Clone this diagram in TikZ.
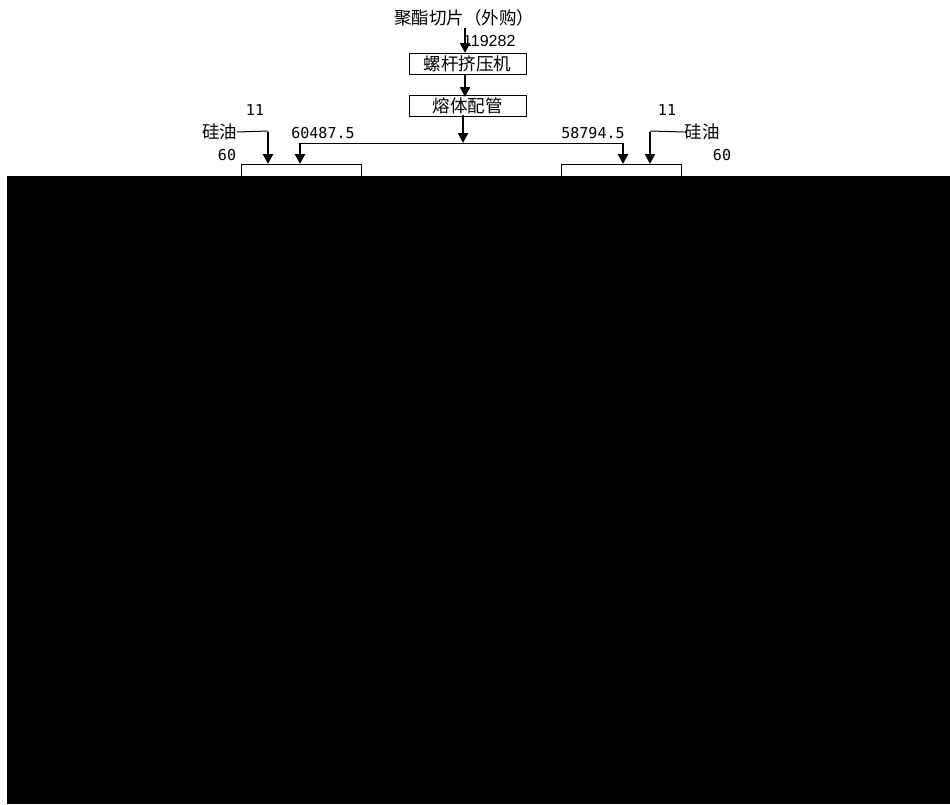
\documentclass[tikz,border=0pt]{standalone}
\usepackage{fontspec}
\usetikzlibrary{arrows.meta}
\newfontfamily\cjkfont{Noto Sans CJK SC}
\newfontfamily\monofont{DejaVu Sans Mono}
\newfontfamily\sansfont{Liberation Sans}
\begin{document}
\begin{tikzpicture}[x=1pt,y=-1pt,
  cn/.style={font=\cjkfont\fontsize{17.5}{17.5}\selectfont, inner sep=0pt},
  procbox/.style={draw, line width=1pt, minimum width=117pt, minimum height=21pt, inner sep=0pt, font=\cjkfont\fontsize{17.5}{17.5}\selectfont},
  tankbox/.style={draw, line width=1pt, minimum width=120pt, minimum height=30pt, inner sep=0pt},
  num/.style={font=\monofont\fontsize{15}{15}\selectfont, inner sep=0pt},
  snum/.style={font=\sansfont\fontsize{16}{16}\selectfont, inner sep=0pt},
  flow/.style={line width=2.2pt, -{Triangle[length=10pt,width=10pt]}},
  thinline/.style={line width=1pt}]
\useasboundingbox (0,0) rectangle (950,804);
\fill[white] (0,0) rectangle (950,804);
% main chain
\node[cn] (src) at (464,18) {聚酯切片（外购）};
\node[procbox] (b1) at (467.5,63.5) {螺杆挤压机};
\node[procbox] (b2) at (467.5,106) {熔体配管};
\node[snum, anchor=west] (q0) at (463,41) {119282};
\coordinate (s1) at (465,28);
\coordinate (e1) at (465,53);
\draw[flow] (s1) -- (e1);
\coordinate (s2) at (465,74);
\coordinate (e2) at (465,97);
\draw[flow] (s2) -- (e2);
\coordinate (s3) at (463,115);
\coordinate (jc) at (463,143);
\draw[flow] (s3) -- (jc);
% split
\coordinate (jl) at (300,143);
\coordinate (jr) at (623,143);
\draw[thinline] (jl) -- (jr);
\node[tankbox] (lbox) at (301,179) {};
\node[tankbox] (rbox) at (621,179) {};
\coordinate (tl) at (300,164);
\coordinate (tr) at (623,164);
\draw[flow] (jl) -- (tl);
\draw[flow] (jr) -- (tr);
\node[num] (ql) at (323,133) {60487.5};
\node[num] (qr) at (593,133) {58794.5};
% silicone oil left
\node[cn] (siL) at (219.5,132) {硅油};
\coordinate (cl) at (268,131);
\coordinate (tl2) at (268,164);
\draw[thinline] (siL.east) -- (cl);
\draw[flow] ([yshift=-0.5pt]cl) -- (tl2);
\node[num] (l11) at (255,110) {11};
\node[num] (l60) at (227,155) {60};
% silicone oil right
\node[cn] (siR) at (702,132) {硅油};
\coordinate (cr) at (650,131);
\coordinate (tr2) at (650,164);
\draw[thinline] (siR.west) -- (cr);
\draw[flow] ([yshift=-0.5pt]cr) -- (tr2);
\node[num] (r11) at (667,110) {11};
\node[num] (r60) at (722,155) {60};
% covered area
\fill[black] (7,176) rectangle (950,804);
\end{tikzpicture}
\end{document}
